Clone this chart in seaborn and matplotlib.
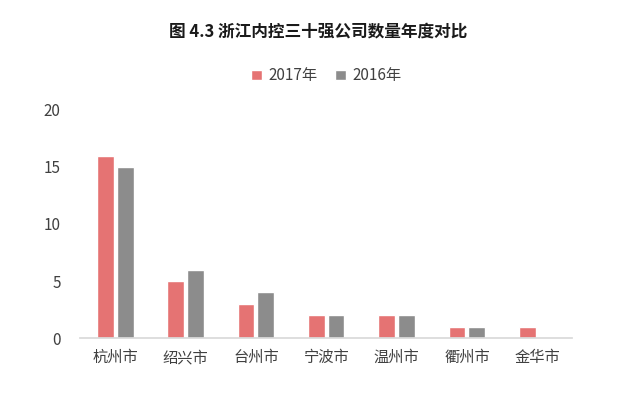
import pandas as pd
import matplotlib
matplotlib.use("Agg")
import matplotlib.pyplot as plt
import seaborn as sns

cities = ["杭州市", "绍兴市", "台州市", "宁波市", "温州市", "衢州市", "金华市"]
count_2017 = [16, 5, 3, 2, 2, 1, 1]
count_2016 = [15, 6, 4, 2, 2, 1, 0]
years = ["2017年", "2016年"]

data = pd.DataFrame({
    "city": cities * 2,
    "year": [years[0]] * len(cities) + [years[1]] * len(cities),
    "count": count_2017 + count_2016,
})

sns.set_theme(style="white")
plt.rcParams["font.family"] = ["Noto Sans CJK SC", "DejaVu Sans"]

fig = plt.figure(figsize=(6.36, 3.94), dpi=100)
ax = fig.add_axes([0.126, 0.142, 0.774, 0.579])

sns.barplot(data=data, x="city", y="count", hue="year", order=cities,
            hue_order=years, palette=["#E57373", "#8C8C8C"],
            width=0.56, gap=0.15, ax=ax, saturation=1)

ax.set_ylim(0, 20)
ax.set_yticks([0, 5, 10, 15, 20])
ax.set_xlabel("")
ax.set_ylabel("")
for s in ["top", "right", "left"]:
    ax.spines[s].set_visible(False)
ax.spines["bottom"].set_color("#D9D9D9")
ax.tick_params(axis="both", length=0, labelsize=11, colors="#404040")
ax.tick_params(axis="y", pad=14)
ax.tick_params(axis="x", pad=8)

ax.legend(loc="center", bbox_to_anchor=(0.5, 1.15), ncol=2, frameon=False,
          fontsize=11, handlelength=0.7, handleheight=0.7, handletextpad=0.4,
          columnspacing=1.2, labelcolor="#404040")

fig.text(0.5, 0.92, "图 4.3 浙江内控三十强公司数量年度对比", ha="center",
         va="center", fontsize=12, fontweight="bold", color="#1a1a1a")

fig.savefig("out.png", dpi=100, facecolor="white")
